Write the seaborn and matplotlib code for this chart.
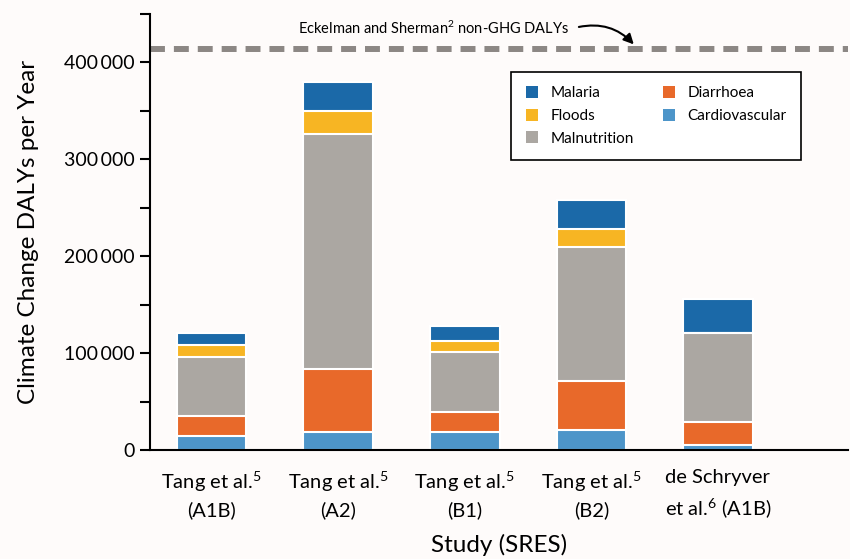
import pandas as pd
import seaborn as sns
import matplotlib.pyplot as plt
from matplotlib.patches import Patch
from matplotlib.ticker import FuncFormatter, MultipleLocator

# Studies on the x axis
studies = ["Tang et al.$^{5}$\n(A1B)", "Tang et al.$^{5}$\n(A2)", "Tang et al.$^{5}$\n(B1)",
           "Tang et al.$^{5}$\n(B2)", "de Schryver\net al.$^{6}$ (A1B)"]

# DALYs per cause (bottom to top of each stack)
cardiovascular = [14000, 18500, 18500, 20500, 5000]
diarrhoea = [21000, 65000, 20500, 50500, 24000]
malnutrition = [61000, 242500, 62000, 139000, 92000]
floods = [12500, 24000, 12000, 18000, 0]
malaria = [12500, 30000, 15000, 30000, 34500]

non_ghg_dalys = 414000

causes = ["Cardiovascular", "Diarrhoea", "Malnutrition", "Floods", "Malaria"]
values = [cardiovascular, diarrhoea, malnutrition, floods, malaria]
colors = {"Malaria": "#1b69a8", "Floods": "#f7b523", "Malnutrition": "#aba7a2",
          "Diarrhoea": "#e8692a", "Cardiovascular": "#4d95c9"}

df = pd.DataFrame(dict(zip(causes, values)), index=studies)
cum = df.cumsum(axis=1)

sns.set_style("ticks")
plt.rcParams["font.family"] = ["Lato", "DejaVu Sans"]
plt.rcParams["mathtext.fontset"] = "custom"
plt.rcParams["mathtext.rm"] = "Lato"
plt.rcParams["mathtext.default"] = "rm"
plt.rcParams["text.color"] = "black"
plt.rcParams["axes.labelcolor"] = "black"
plt.rcParams["xtick.color"] = "black"
plt.rcParams["ytick.color"] = "black"
bg = "#fefbfa"

fig = plt.figure(figsize=(8.5, 5.59), dpi=100, facecolor=bg)
ax = fig.add_axes([0.176, 0.195, 0.822, 0.78], facecolor=bg)

# draw cumulative bars from the top down so each segment sits on the one below
for cause in causes[::-1]:
    sns.barplot(x=cum.index, y=cum[cause].values, color=colors[cause], width=0.55,
                edgecolor="white", linewidth=1.5, saturation=1, ax=ax)

ax.axhline(non_ghg_dalys, color="#8c8784", lw=4.3, dashes=(2.5, 1.5), zorder=1)
ax.text(1.75, 435000, "Eckelman and Sherman$^{2}$ non-GHG DALYs", fontsize=10.5,
        ha="center", va="center")
ax.annotate("", xy=(3.35, 416500), xytext=(2.88, 436000),
            arrowprops=dict(arrowstyle="-|>", color="black", lw=1.5,
                            connectionstyle="arc3,rad=-0.3", mutation_scale=15))

ax.set_xlim(-0.49, 5.03)
ax.set_ylim(0, 450000)
ax.yaxis.set_major_locator(MultipleLocator(100000))
ax.yaxis.set_minor_locator(MultipleLocator(50000))
ax.yaxis.set_major_formatter(FuncFormatter(lambda v, p: f"{int(v):,}".replace(",", "\u2009")))
ax.tick_params(axis="y", which="both", length=7, width=1.5, labelsize=14)
ax.tick_params(axis="x", length=0, labelsize=14.5, pad=14)
for t in ax.get_xticklabels():
    t.set_linespacing(1.5)
sns.despine(ax=ax)
for s in ["left", "bottom"]:
    ax.spines[s].set_linewidth(1.5)
    ax.spines[s].set_color("black")

ax.set_ylabel("Climate Change DALYs per Year", fontsize=17.5, labelpad=18)
ax.set_xlabel("Study (SRES)", fontsize=17.5, labelpad=10)

legend_order = ["Malaria", "Floods", "Malnutrition", "Diarrhoea", "Cardiovascular"]
handles = [Patch(facecolor=colors[c], edgecolor="none") for c in legend_order]
leg = ax.legend(handles, legend_order, ncol=2, loc="upper right",
                bbox_to_anchor=(0.943, 0.885), fontsize=11, frameon=True,
                fancybox=False, edgecolor="black", framealpha=1,
                handlelength=0.8, handleheight=0.8, columnspacing=1.9,
                borderpad=0.95, labelspacing=0.55, handletextpad=0.8)
leg.get_frame().set_linewidth(1.2)
leg.get_frame().set_facecolor("white")

fig.savefig("out.png", dpi=100, facecolor=bg)
